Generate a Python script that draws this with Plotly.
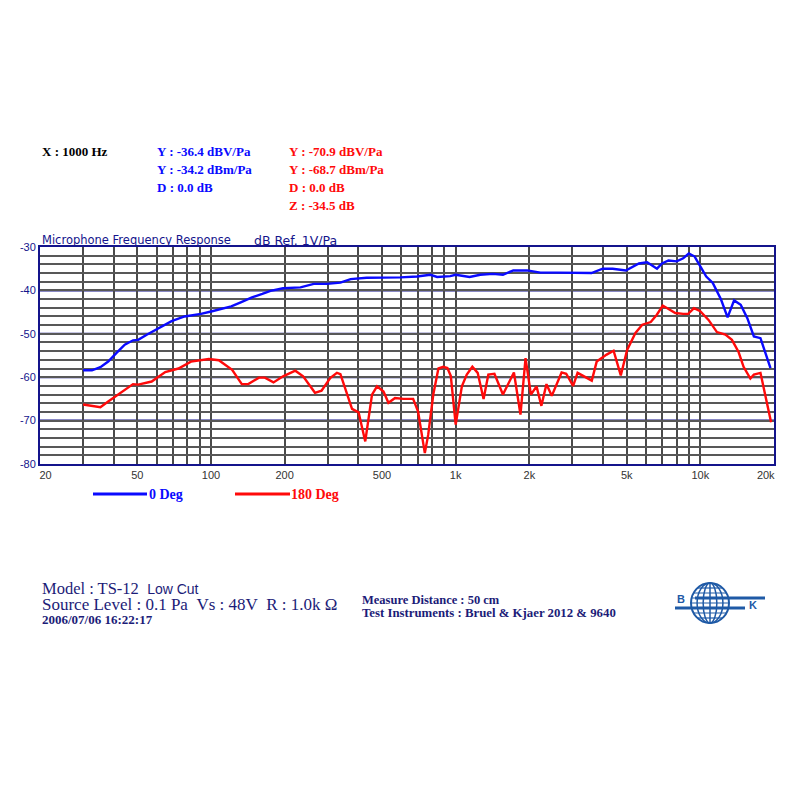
import numpy as np
import plotly.graph_objects as go

# ---------------- data ----------------
blue_freq = [30, 32.6, 35.3, 38, 41.1, 44.4, 48, 50.4, 54.6, 61, 69, 78, 91, 101, 110, 121, 133, 147,
             162, 175, 197, 232, 263, 298, 338, 372, 433, 507, 594, 695, 788, 840, 950, 1000, 1140,
             1260, 1420, 1560, 1720, 1960, 2220, 2590, 3030, 3590, 3990, 4380, 4960, 5270, 5610,
             6060, 6350, 6650, 6970, 7410, 8010, 8510, 8970, 9480, 10080, 10570, 11240, 12150,
             12920, 13740, 14620, 15560, 16550, 17610, 19350]
blue_db = [-58.4, -58.4, -57.7, -56.4, -54.4, -52.5, -51.5, -51.4, -50.2, -48.7, -47.1, -46.0, -45.4,
           -44.8, -44.3, -43.7, -42.7, -41.6, -40.8, -40.1, -39.5, -39.3, -38.5, -38.5, -38.2, -37.4,
           -37.1, -37.1, -37.0, -36.8, -36.4, -36.9, -36.7, -36.4, -36.9, -36.4, -36.2, -36.4, -35.4,
           -35.4, -35.9, -35.9, -35.9, -36.0, -35.0, -35.0, -35.4, -34.7, -33.8, -33.5, -34.2, -35.0,
           -33.8, -33.1, -33.3, -32.6, -31.5, -32.2, -34.8, -36.8, -38.3, -42.1, -46.2, -42.3, -43.3,
           -46.4, -50.6, -51.0, -57.9]

red_freq = [30, 32, 35.3, 38, 41.8, 48, 50.4, 57.2, 65, 73.6, 82.8, 91.9, 97.9, 107.6, 122, 133.6, 142,
            157, 166, 180, 197, 221, 238, 266, 283, 307, 327, 338, 377, 401, 427, 455, 477, 507, 531,
            565, 611, 670, 702, 748, 772, 810, 850, 890, 925, 955, 1000, 1060, 1110, 1170, 1230, 1300,
            1360, 1440, 1560, 1730, 1840, 1930, 1980, 2030, 2140, 2240, 2350, 2470, 2710, 2830, 3020,
            3150, 3600, 3770, 4140, 4420, 4730, 5020, 5430, 5790, 6270, 6640, 7020, 7410, 7900, 8510,
            8920, 9420, 9990, 10800, 11690, 12660, 13460, 14330, 15020, 16010, 16550, 17610, 18180,
            19460]
red_db = [-66.3, -66.6, -66.9, -65.6, -64.0, -61.6, -61.7, -61.0, -58.8, -58.0, -56.4, -56.1, -55.8,
          -56.1, -58.3, -61.6, -61.6, -60.1, -60.1, -61.2, -59.8, -58.5, -59.8, -63.6, -63.1, -60.2,
          -59.0, -59.3, -67.3, -68.1, -74.8, -64.0, -62.1, -63.3, -65.9, -64.8, -65.0, -65.0, -67.9,
          -77.5, -73.3, -64.0, -58.0, -57.6, -57.9, -59.7, -70.9, -62.1, -59.4, -57.6, -59.0, -65.0,
          -59.4, -59.2, -64.0, -58.9, -68.6, -55.6, -60.2, -64.0, -62.1, -66.6, -61.6, -64.3, -58.9,
          -59.2, -62.0, -59.0, -60.8, -56.4, -54.8, -53.9, -59.6, -53.7, -49.8, -47.9, -47.3, -45.6,
          -43.5, -44.2, -45.2, -45.4, -45.4, -44.1, -44.8, -46.8, -49.6, -50.2, -51.4, -54.2, -57.6,
          -60.3, -59.4, -59.0, -62.4, -70.4]

x_grid = [m * 10 ** e for e in (1, 2, 3) for m in range(1, 10)][1:] + [10000, 20000]
x_labels = {20: "\u2002\u200220", 50: "50", 100: "100", 200: "200", 500: "500", 1000: "1k",
            2000: "2k", 5000: "5k", 10000: "10k", 20000: "20k\u2002\u2002\u2002"}
y_minor = list(range(-80, -29, 2))
y_major = [-70, -60, -50, -40]
y_labels = {-30: "-30", -40: "-40", -50: "-50", -60: "-60", -70: "-70", -80: "-80"}

series_names = ["0 Deg", "180 Deg"]
series_colors = ["#0a0aff", "#ff0a0a"]

header_x = "X : 1000 Hz"
header_blue = ["Y : -36.4 dBV/Pa", "Y : -34.2 dBm/Pa", "D : 0.0 dB"]
header_red = ["Y : -70.9 dBV/Pa", "Y : -68.7 dBm/Pa", "D : 0.0 dB", "Z : -34.5 dB"]

# ---------------- geometry helpers (page pixel -> paper) ----------------
OFF = 8                      # default body margin of the html page
L, R, T, B = 40, 774, 247, 464
FW, FH = 784, 784


def px(x):
    return (x - L) / (R - L)


def py(y):
    return (B - y) / (B - T)


NAVY = "#14148c"
TEXT_NAVY = "#1c1c78"
NB = "\u00a0"

fig = go.Figure()
fig.add_trace(go.Scatter(x=blue_freq, y=blue_db, mode="lines", name=series_names[0],
                         line=dict(color=series_colors[0], width=2.4), showlegend=False))
fig.add_trace(go.Scatter(x=red_freq, y=red_db, mode="lines", name=series_names[1],
                         line=dict(color=series_colors[1], width=2.4), showlegend=False))

shapes = []
for v in y_major:
    shapes.append(dict(type="line", xref="paper", yref="y", x0=0, x1=1, y0=v, y1=v,
                       line=dict(color=NAVY, width=2), layer="between"))

# legend
leg_y = py(494)
for (x0, x1), col in zip([(93, 147), (235, 290)], series_colors):
    shapes.append(dict(type="line", xref="paper", yref="paper", x0=px(x0), x1=px(x1),
                       y0=leg_y, y1=leg_y, line=dict(color=col, width=3)))

# logo (globe)
LOGO = "#1f5aa6"
cx, cy, rx, ry = 710, 603, 19, 20
shapes.append(dict(type="circle", xref="paper", yref="paper", x0=px(cx - rx), x1=px(cx + rx),
                   y0=py(cy + ry), y1=py(cy - ry), line=dict(color=LOGO, width=2)))
for k in (0.68, 0.36):
    shapes.append(dict(type="circle", xref="paper", yref="paper", x0=px(cx - rx * k), x1=px(cx + rx * k),
                       y0=py(cy + ry), y1=py(cy - ry), line=dict(color=LOGO, width=1.5)))
shapes.append(dict(type="line", xref="paper", yref="paper", x0=px(cx), x1=px(cx),
                   y0=py(cy + ry), y1=py(cy - ry), line=dict(color=LOGO, width=1.5)))
for dy in (-15, -10, -5, 0, 5, 10, 15):
    half = rx * np.sqrt(max(0.0, 1 - (dy / ry) ** 2))
    shapes.append(dict(type="line", xref="paper", yref="paper", x0=px(cx - half), x1=px(cx + half),
                       y0=py(cy + dy), y1=py(cy + dy), line=dict(color=LOGO, width=1.2)))
shapes.append(dict(type="line", xref="paper", yref="paper", x0=px(695), x1=px(765),
                   y0=py(598), y1=py(598), line=dict(color=LOGO, width=3)))
shapes.append(dict(type="line", xref="paper", yref="paper", x0=px(675), x1=px(745),
                   y0=py(608), y1=py(608), line=dict(color=LOGO, width=3)))

annotations = []


def txt(x, y, s, color, size=12, family="Liberation Serif", bold=True, anchor="left"):
    annotations.append(dict(xref="paper", yref="paper", x=px(x), y=py(y), text=(f"<b>{s}</b>" if bold else s),
                            showarrow=False, xanchor=anchor, yanchor="middle",
                            font=dict(family=family, size=size, color=color)))


txt(40, 151, header_x, "#000000", size=13)
for i, s in enumerate(header_blue):
    txt(155, 151 + i * 18, s, series_colors[0], size=13)
for i, s in enumerate(header_red):
    txt(287, 151 + i * 18, s, series_colors[1], size=13)

txt(40, 240, "Microphone Frequency Response", NAVY, size=11.5, family="DejaVu Sans", bold=False)
txt(252, 240, "dB Ref. 1V/Pa", NAVY, size=12.5, family="DejaVu Sans", bold=False)

txt(147, 494, series_names[0], series_colors[0], size=14)
txt(289, 494, series_names[1], series_colors[1], size=14)

txt(40, 588, f"Model : TS-12{NB}{NB}<span style='font-family:Liberation Sans;font-size:14px'>Low Cut</span>",
    TEXT_NAVY, size=16.5, bold=False)
txt(40, 604, f"Source Level : 0.1 Pa{NB}{NB}Vs : 48V{NB}{NB}R : 1.0k Ω", TEXT_NAVY, size=17, bold=False)
txt(40, 619, "2006/07/06 16:22:17", TEXT_NAVY, size=13)
txt(360, 600, "Measure Distance : 50 cm", TEXT_NAVY, size=12.5)
txt(360, 613, "Test Instruments : Bruel &amp; Kjaer 2012 &amp; 9640", TEXT_NAVY, size=12.8)

annotations.append(dict(xref="paper", yref="paper", x=px(681), y=py(599), text="<b>B</b>", showarrow=False,
                        xanchor="center", yanchor="middle",
                        font=dict(family="Liberation Sans", size=11, color=LOGO)))
annotations.append(dict(xref="paper", yref="paper", x=px(753), y=py(605), text="<b>K</b>", showarrow=False,
                        xanchor="center", yanchor="middle",
                        font=dict(family="Liberation Sans", size=11, color=LOGO)))

fig.update_layout(
    template="none",
    width=FW, height=FH,
    margin=dict(l=L - OFF, r=OFF + FW - R, t=T - OFF, b=OFF + FH - B, pad=0),
    paper_bgcolor="white", plot_bgcolor="white",
    showlegend=False,
    shapes=shapes, annotations=annotations,
    xaxis=dict(type="log", range=[np.log10(20), np.log10(20000)], automargin=False,
               tickvals=x_grid, ticktext=[x_labels.get(v, "") for v in x_grid],
               showgrid=True, gridcolor="#4a4a4a", gridwidth=1.6,
               showline=True, mirror=True, linecolor=NAVY, linewidth=2,
               ticks="", zeroline=False,
               tickfont=dict(family="Liberation Sans", size=11, color="#333333")),
    yaxis=dict(range=[-80, -30], automargin=False, tickvals=y_minor,
               ticktext=[y_labels.get(v, "") for v in y_minor],
               showgrid=True, gridcolor="#585858", gridwidth=1.5,
               showline=True, mirror=True, linecolor=NAVY, linewidth=2,
               ticks="", zeroline=False,
               tickfont=dict(family="Liberation Sans", size=11, color=NAVY)),
)

fig.write_html("out.html")
